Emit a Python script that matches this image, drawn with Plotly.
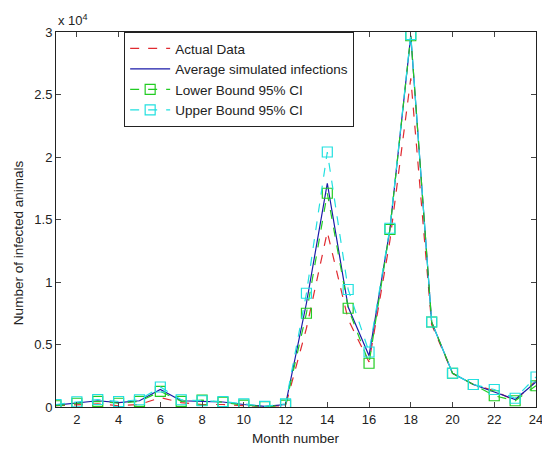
import plotly.graph_objects as go

months = list(range(1, 25))
actual = [100, 150, 250, 100, 200, 750, 350, 200, 200, 100, 50, 100,
          6300, 14000, 7000, 3600, 13300, 26300, 6600, 2700, 1800, 1300, 500, 2100]
average = [150, 350, 500, 350, 500, 1400, 500, 450, 400, 200, 50, 200,
           8300, 17900, 8000, 4100, 14200, 29700, 6800, 2700, 1800, 1200, 600, 2000]
lower = [100, 300, 450, 300, 450, 1250, 450, 550, 380, 150, 30, 150,
         7500, 17100, 7900, 3500, 14200, 29700, 6800, 2700, 1800, 900, 500, 1700]
upper = [200, 420, 600, 440, 580, 1600, 580, 500, 440, 250, 50, 250,
         9100, 20400, 9400, 4400, 14300, 29800, 6800, 2700, 1800, 1400, 700, 2400]

xticks = [2, 4, 6, 8, 10, 12, 14, 16, 18, 20, 22, 24]
yticks = [0, 5000, 10000, 15000, 20000, 25000, 30000]
ytext = ["0", "0.5", "1", "1.5", "2", "2.5", "3"]

fig = go.Figure()
fig.add_trace(go.Scatter(x=months, y=actual, mode="lines", name="Actual Data",
                         line=dict(color="#e02a30", width=1.2, dash="dash")))
fig.add_trace(go.Scatter(x=months, y=average, mode="lines", name="Average simulated infections",
                         line=dict(color="#1a1aa8", width=1.2)))
fig.add_trace(go.Scatter(x=months, y=lower, mode="lines+markers", name="Lower Bound 95% CI",
                         line=dict(color="#22cc22", width=1.2, dash="dash"),
                         marker=dict(symbol="square-open", size=10, color="#22cc22", line=dict(width=1.2))))
fig.add_trace(go.Scatter(x=months, y=upper, mode="lines+markers", name="Upper Bound 95% CI",
                         line=dict(color="#22e0e0", width=1.2, dash="dash"),
                         marker=dict(symbol="square-open", size=10, color="#22e0e0", line=dict(width=1.2))))

fig.update_layout(
    width=542, height=451,
    margin=dict(l=56, r=6, t=32, b=44),
    paper_bgcolor="white", plot_bgcolor="white",
    font=dict(family="Liberation Sans, Arial, sans-serif", size=13, color="#222"),
    showlegend=True,
    legend=dict(x=0.142, y=1.0, xanchor="left", yanchor="top",
                bordercolor="#222", borderwidth=1, bgcolor="white",
                font=dict(size=13.5), tracegroupgap=0, itemwidth=40),
    xaxis=dict(range=[1, 24], tickvals=xticks, ticks="inside", ticklen=5,
               showline=True, linecolor="#222", linewidth=1, mirror="ticks",
               showgrid=False, zeroline=False, ticklabeloverflow="allow",
               automargin=False, tickfont=dict(size=13)),
    yaxis=dict(range=[0, 30000], tickvals=yticks, ticktext=ytext, ticks="inside", ticklen=5,
               showline=True, linecolor="#222", linewidth=1, mirror="ticks",
               showgrid=False, zeroline=False, ticklabeloverflow="allow",
               automargin=False, tickfont=dict(size=13)),
)
fig.add_annotation(text="Month number", xref="paper", yref="paper", x=0.5, y=0,
                   xanchor="center", yanchor="middle", showarrow=False, yshift=-31,
                   font=dict(size=13.5, color="#222"))
fig.add_annotation(text="Number of infected animals", xref="paper", yref="paper", x=0, y=0.437,
                   xanchor="center", yanchor="middle", showarrow=False, xshift=-38, textangle=-90,
                   font=dict(size=13.5, color="#222"))
fig.add_annotation(text="x 10<sup>4</sup>", xref="paper", yref="paper", x=0.0, y=1.0,
                   xanchor="left", yanchor="bottom", showarrow=False, yshift=2,
                   font=dict(size=13, color="#222"))

fig.write_html("out.html")
